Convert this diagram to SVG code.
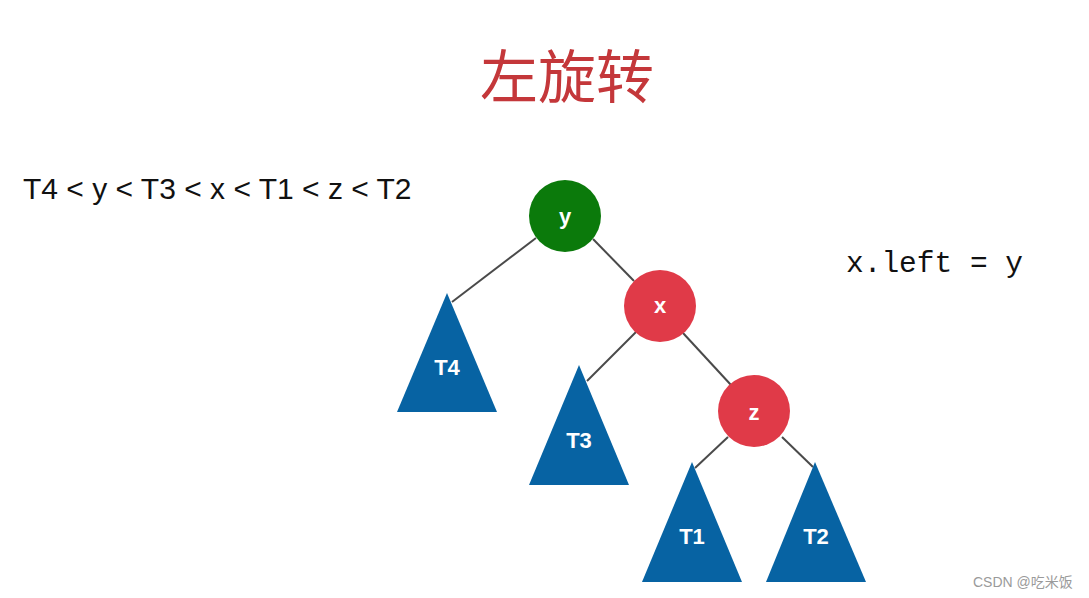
<svg xmlns="http://www.w3.org/2000/svg" width="1089" height="598" viewBox="0 0 1089 598">
<style>
.edge{stroke:#4a4a4a;stroke-width:2;fill:none}
.red{fill:#e03a48}
.green{fill:#0b7a0b}
.tri{fill:#0763a3}
.lbl{font-family:"Liberation Sans",Arial,sans-serif;font-weight:bold;font-size:22px;fill:#ffffff;text-anchor:middle}
</style>
<rect width="1089" height="598" fill="#ffffff"/>
<text x="567" y="98" font-family="'Noto Sans CJK SC',sans-serif" font-size="58" fill="#c4373a" text-anchor="middle">左旋转</text>
<text x="23" y="199" font-family="'Liberation Sans',Arial,sans-serif" font-size="30" fill="#111">T4 &lt; y &lt; T3 &lt; x &lt; T1 &lt; z &lt; T2</text>
<text x="846" y="272" font-family="'Liberation Mono','DejaVu Sans Mono',monospace" font-size="29.5" fill="#111">x.left = y</text>
<g id="connectors">
<line class="edge" x1="536" y1="238" x2="452" y2="302"/>
<line class="edge" x1="593" y1="239" x2="634" y2="281"/>
<line class="edge" x1="636" y1="332" x2="587" y2="381"/>
<line class="edge" x1="683" y1="333" x2="731" y2="385"/>
<line class="edge" x1="728" y1="437" x2="695" y2="468"/>
<line class="edge" x1="782" y1="437" x2="813" y2="467"/>
</g>
<g id="node-y"><circle class="green" cx="565" cy="216" r="36"/><text class="lbl" x="565" y="224">y</text></g>
<g id="node-x"><circle class="red" cx="660" cy="306" r="36"/><text class="lbl" x="660" y="313">x</text></g>
<g id="node-z"><circle class="red" cx="754" cy="411" r="36"/><text class="lbl" x="754" y="420">z</text></g>
<g id="node-T4"><polygon class="tri" points="447,293 497,412 397,412"/><text class="lbl" x="447" y="375">T4</text></g>
<g id="node-T3"><polygon class="tri" points="579,365 629,485 529,485"/><text class="lbl" x="579" y="448">T3</text></g>
<g id="node-T1"><polygon class="tri" points="692,462 742,582 642,582"/><text class="lbl" x="692" y="544">T1</text></g>
<g id="node-T2"><polygon class="tri" points="815,462 866,582 766,582"/><text class="lbl" x="816" y="544">T2</text></g>
<text x="973" y="587" font-family="'Liberation Sans','Noto Sans CJK SC',sans-serif" font-size="14" fill="#9a9a9a">CSDN @吃米饭</text>
</svg>
